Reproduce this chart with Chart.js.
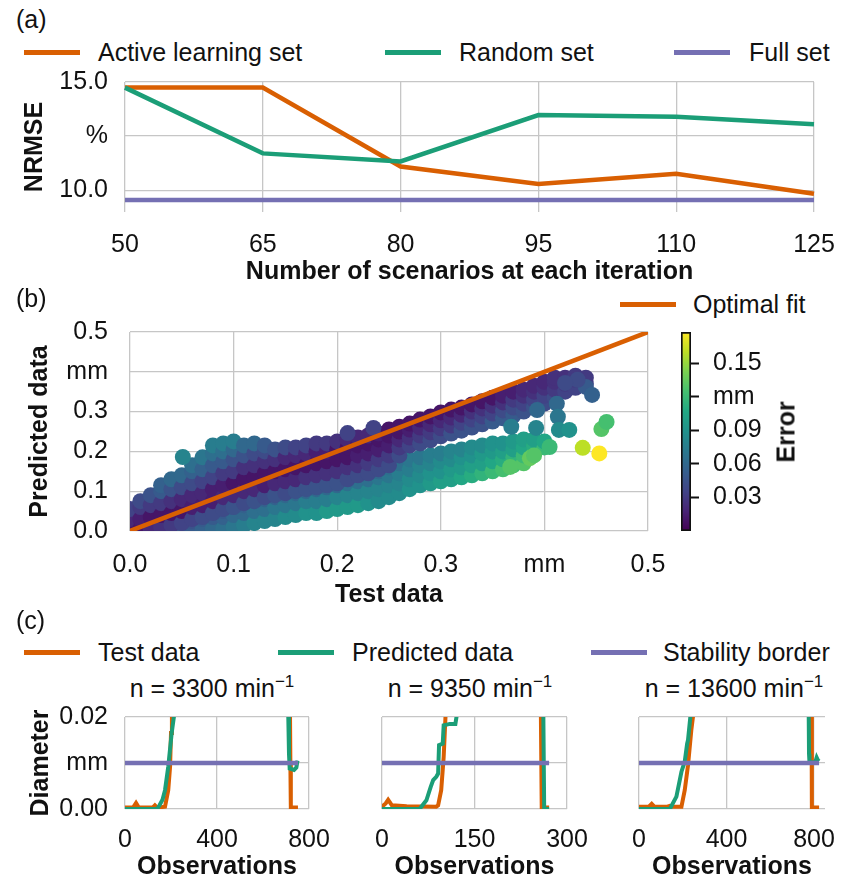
<!DOCTYPE html>
<html>
<head>
<meta charset="utf-8">
<script src="https://cdn.jsdelivr.net/npm/chart.js@4.4.1/dist/chart.umd.min.js"></script>
<style>
  html, body { margin: 0; padding: 0; background: #fff; }
  body { position: relative; width: 853px; height: 878px; overflow: hidden; font-family: "Liberation Sans", Arial, sans-serif; color: #111; }
  canvas { position: absolute; }
  .txt { position: absolute; font-size: 25px; line-height: 25px; white-space: nowrap; }
  .swatch { position: absolute; height: 5px; }
  .sub { text-align: center; width: 240px; }
  .sup { font-size: 17px; position: relative; top: -10px; }
</style>
</head>
<body>

<!-- (a) -->
<div class="txt" style="left:16px;top:7px">(a)</div>
<div class="swatch" style="left:24px;top:50px;width:56px;background:#d95f02"></div>
<div class="txt" style="left:98px;top:40px">Active learning set</div>
<div class="swatch" style="left:385px;top:50px;width:56px;background:#1b9e77"></div>
<div class="txt" style="left:459px;top:40px">Random set</div>
<div class="swatch" style="left:674px;top:50px;width:56px;background:#7570b3"></div>
<div class="txt" style="left:749px;top:40px">Full set</div>
<canvas id="nrmse" width="853" height="220" style="left:0;top:70px"></canvas>

<!-- (b) -->
<div class="txt" style="left:16px;top:286px">(b)</div>
<div class="swatch" style="left:620px;top:302px;width:56px;background:#d95f02"></div>
<div class="txt" style="left:693px;top:292px">Optimal fit</div>
<canvas id="fit" width="670" height="300" style="left:0;top:315px"></canvas>
<canvas id="colorbar" width="120" height="300" style="left:660px;top:315px"></canvas>
<div class="txt" style="left:786px;top:432px;font-weight:bold;transform:translate(-50%,-50%) rotate(-90deg)">Error</div>

<!-- (c) -->
<div class="txt" style="left:16px;top:608px">(c)</div>
<div class="swatch" style="left:24px;top:650px;width:56px;background:#d95f02"></div>
<div class="txt" style="left:98px;top:640px">Test data</div>
<div class="swatch" style="left:278px;top:650px;width:56px;background:#1b9e77"></div>
<div class="txt" style="left:352px;top:640px">Predicted data</div>
<div class="swatch" style="left:591px;top:650px;width:56px;background:#7570b3"></div>
<div class="txt" style="left:663px;top:640px">Stability border</div>
<div class="txt sub" style="left:92px;top:676px">n = 3300 min<span class="sup">−1</span></div>
<div class="txt sub" style="left:350px;top:676px">n = 9350 min<span class="sup">−1</span></div>
<div class="txt sub" style="left:614px;top:676px">n = 13600 min<span class="sup">−1</span></div>
<canvas id="run1" width="330" height="185" style="left:0;top:700px"></canvas>
<canvas id="run2" width="250" height="185" style="left:340px;top:700px"></canvas>
<canvas id="run3" width="253" height="185" style="left:600px;top:700px"></canvas>

<script>
// ---- (a) NRMSE per iteration ----
const scenarioCounts = ['50', '65', '80', '95', '110', '125'];
const nrmseActive = [14.74, 14.74, 11.09, 10.28, 10.76, 9.83];
const nrmseRandom = [14.74, 11.70, 11.33, 13.47, 13.39, 13.05];
const nrmseFull = 9.55;
const nrmseTicks = [10, 12.5, 15];

// ---- (b) test vs predicted, [test, [predicted...], [error...]] per column ----
const upperBand = [
  [0.00, [0.005, 0.03, 0.055], [0.01, 0.02, 0.035]],
  [0.01, [0.005, 0.03, 0.06, 0.075], [0.01, 0.015, 0.03, 0.04]],
  [0.02, [0.005, 0.035, 0.065, 0.09], [0.02, 0.01, 0.03, 0.045]],
  [0.03, [0.01, 0.04, 0.07, 0.1, 0.115], [0.025, 0.01, 0.03, 0.05, 0.055]],
  [0.04, [0.015, 0.045, 0.075, 0.105, 0.13], [0.03, 0.01, 0.025, 0.045, 0.06]],
  [0.05, [0.02, 0.05, 0.08, 0.11, 0.14], [0.035, 0.01, 0.02, 0.04, 0.06]],
  [0.06, [0.03, 0.06, 0.09, 0.12, 0.15, 0.165], [0.035, 0.015, 0.02, 0.04, 0.055, 0.065]],
  [0.07, [0.035, 0.065, 0.095, 0.125, 0.155, 0.185], [0.04, 0.015, 0.02, 0.035, 0.055, 0.07]],
  [0.08, [0.045, 0.075, 0.105, 0.135, 0.165, 0.195, 0.215], [0.04, 0.015, 0.015, 0.035, 0.05, 0.065, 0.075]],
  [0.09, [0.055, 0.085, 0.115, 0.145, 0.175, 0.2, 0.22], [0.04, 0.02, 0.015, 0.03, 0.05, 0.065, 0.075]],
  [0.10, [0.06, 0.09, 0.12, 0.15, 0.18, 0.205, 0.225], [0.045, 0.02, 0.01, 0.03, 0.045, 0.06, 0.075]],
  [0.11, [0.07, 0.1, 0.13, 0.16, 0.19, 0.215], [0.04, 0.02, 0.01, 0.025, 0.045, 0.06]],
  [0.12, [0.075, 0.105, 0.135, 0.165, 0.195, 0.22], [0.045, 0.02, 0.01, 0.025, 0.04, 0.06]],
  [0.13, [0.085, 0.115, 0.145, 0.175, 0.2, 0.215], [0.04, 0.015, 0.01, 0.025, 0.04, 0.05]],
  [0.14, [0.09, 0.12, 0.15, 0.18, 0.205], [0.045, 0.02, 0.01, 0.025, 0.045]],
  [0.15, [0.095, 0.125, 0.155, 0.185, 0.21], [0.04, 0.02, 0.01, 0.02, 0.04]],
  [0.16, [0.1, 0.13, 0.16, 0.19, 0.21], [0.045, 0.02, 0.01, 0.02, 0.035]],
  [0.17, [0.105, 0.135, 0.165, 0.195, 0.215], [0.045, 0.025, 0.01, 0.02, 0.035]],
  [0.18, [0.11, 0.14, 0.17, 0.2, 0.22], [0.045, 0.025, 0.01, 0.015, 0.03]],
  [0.19, [0.115, 0.145, 0.175, 0.2, 0.22], [0.045, 0.025, 0.01, 0.015, 0.03]],
  [0.20, [0.12, 0.15, 0.18, 0.205, 0.225], [0.045, 0.025, 0.01, 0.01, 0.025]],
  [0.21, [0.13, 0.16, 0.185, 0.21, 0.23], [0.04, 0.025, 0.01, 0.01, 0.02]],
  [0.22, [0.14, 0.165, 0.19, 0.215, 0.235], [0.04, 0.025, 0.015, 0.01, 0.02]],
  [0.23, [0.145, 0.17, 0.195, 0.22, 0.24], [0.04, 0.03, 0.015, 0.01, 0.02]],
  [0.24, [0.155, 0.18, 0.205, 0.23, 0.245], [0.04, 0.03, 0.015, 0.01, 0.015]],
  [0.25, [0.165, 0.19, 0.215, 0.24, 0.255], [0.04, 0.03, 0.015, 0.01, 0.01]],
  [0.26, [0.19, 0.21, 0.23, 0.25, 0.262], [0.04, 0.03, 0.02, 0.01, 0.01]],
  [0.27, [0.215, 0.235, 0.255, 0.27], [0.035, 0.025, 0.015, 0.01]],
  [0.28, [0.22, 0.24, 0.26, 0.28], [0.04, 0.03, 0.02, 0.01]],
  [0.29, [0.228, 0.248, 0.268, 0.288], [0.04, 0.03, 0.02, 0.01]],
  [0.30, [0.238, 0.258, 0.278, 0.298], [0.04, 0.03, 0.02, 0.01]],
  [0.31, [0.245, 0.265, 0.285, 0.305], [0.045, 0.03, 0.02, 0.01]],
  [0.32, [0.252, 0.272, 0.292, 0.31], [0.045, 0.035, 0.02, 0.01]],
  [0.33, [0.26, 0.28, 0.3, 0.318], [0.045, 0.035, 0.025, 0.01]],
  [0.34, [0.268, 0.288, 0.308, 0.326], [0.045, 0.035, 0.025, 0.01]],
  [0.35, [0.275, 0.295, 0.315, 0.335], [0.05, 0.035, 0.025, 0.01]],
  [0.36, [0.283, 0.303, 0.323, 0.34], [0.05, 0.04, 0.025, 0.015]],
  [0.37, [0.29, 0.31, 0.33, 0.35], [0.05, 0.04, 0.03, 0.015]],
  [0.38, [0.3, 0.32, 0.34, 0.355], [0.045, 0.035, 0.025, 0.02]],
  [0.39, [0.31, 0.33, 0.35, 0.365], [0.045, 0.035, 0.025, 0.02]],
  [0.40, [0.32, 0.34, 0.36, 0.375], [0.04, 0.035, 0.025, 0.02]],
  [0.41, [0.335, 0.355, 0.375, 0.385], [0.04, 0.03, 0.025, 0.025]],
  [0.42, [0.35, 0.37, 0.385], [0.035, 0.03, 0.025]],
  [0.43, [0.36, 0.38, 0.39], [0.035, 0.03, 0.03]],
  [0.44, [0.37, 0.385], [0.035, 0.03]]
];
const lowerBand = [
  [0.04, [0.005], [0.045]],
  [0.05, [0.005], [0.05]],
  [0.06, [0.005, 0.025], [0.05, 0.045]],
  [0.07, [0.005, 0.03], [0.055, 0.05]],
  [0.08, [0.005, 0.035], [0.06, 0.05]],
  [0.09, [0.005, 0.035, 0.05], [0.065, 0.055, 0.05]],
  [0.10, [0.01, 0.04, 0.06], [0.07, 0.06, 0.05]],
  [0.11, [0.015, 0.045, 0.065], [0.075, 0.06, 0.055]],
  [0.12, [0.02, 0.05, 0.075], [0.08, 0.065, 0.055]],
  [0.13, [0.025, 0.055, 0.08], [0.08, 0.065, 0.055]],
  [0.14, [0.03, 0.06, 0.085], [0.08, 0.07, 0.055]],
  [0.15, [0.035, 0.065, 0.09], [0.085, 0.07, 0.06]],
  [0.16, [0.04, 0.07, 0.095], [0.085, 0.07, 0.06]],
  [0.17, [0.045, 0.075, 0.1], [0.09, 0.075, 0.06]],
  [0.18, [0.045, 0.075, 0.105], [0.09, 0.075, 0.06]],
  [0.19, [0.05, 0.08, 0.11], [0.095, 0.075, 0.06]],
  [0.20, [0.055, 0.085, 0.115], [0.095, 0.08, 0.06]],
  [0.21, [0.06, 0.09, 0.12], [0.095, 0.08, 0.065]],
  [0.22, [0.065, 0.095, 0.125], [0.095, 0.08, 0.065]],
  [0.23, [0.07, 0.1, 0.13], [0.09, 0.08, 0.065]],
  [0.24, [0.075, 0.105, 0.135, 0.15], [0.085, 0.08, 0.07, 0.06]],
  [0.25, [0.085, 0.115, 0.14, 0.16], [0.085, 0.08, 0.07, 0.065]],
  [0.26, [0.095, 0.12, 0.145, 0.17], [0.085, 0.08, 0.075, 0.065]],
  [0.27, [0.105, 0.13, 0.155, 0.18], [0.09, 0.085, 0.075, 0.07]],
  [0.28, [0.115, 0.14, 0.165, 0.185], [0.09, 0.085, 0.08, 0.07]],
  [0.29, [0.12, 0.145, 0.17, 0.19], [0.095, 0.09, 0.08, 0.075]],
  [0.30, [0.125, 0.15, 0.175, 0.195], [0.1, 0.09, 0.085, 0.075]],
  [0.31, [0.13, 0.155, 0.18, 0.2], [0.1, 0.095, 0.085, 0.08]],
  [0.32, [0.135, 0.16, 0.185, 0.205], [0.105, 0.095, 0.09, 0.08]],
  [0.33, [0.14, 0.165, 0.19, 0.21], [0.11, 0.1, 0.09, 0.085]],
  [0.34, [0.145, 0.17, 0.195, 0.215], [0.115, 0.1, 0.095, 0.085]],
  [0.35, [0.15, 0.175, 0.2, 0.22], [0.12, 0.105, 0.095, 0.09]],
  [0.36, [0.155, 0.18, 0.2, 0.22], [0.125, 0.11, 0.1, 0.09]],
  [0.37, [0.165, 0.185, 0.205, 0.225], [0.125, 0.115, 0.1, 0.095]],
  [0.38, [0.17, 0.19, 0.21, 0.23], [0.13, 0.12, 0.105, 0.1]],
  [0.39, [0.195, 0.215, 0.23], [0.13, 0.11, 0.1]],
  [0.40, [0.21, 0.225], [0.12, 0.105]]
];
// stray points: [test, predicted, error]
const strayPoints = [
  [0.051, 0.186, 0.08], [0.21, 0.246, 0.035], [0.235, 0.259, 0.035],
  [0.393, 0.304, 0.06], [0.412, 0.32, 0.06], [0.413, 0.287, 0.07],
  [0.368, 0.262, 0.075], [0.392, 0.259, 0.08], [0.414, 0.254, 0.085],
  [0.424, 0.254, 0.09], [0.437, 0.209, 0.16], [0.453, 0.195, 0.178],
  [0.455, 0.256, 0.13], [0.46, 0.274, 0.125], [0.405, 0.211, 0.12],
  [0.367, 0.161, 0.13], [0.386, 0.183, 0.135], [0.39, 0.19, 0.13],
  [0.44, 0.362, 0.05], [0.446, 0.342, 0.055], [0.432, 0.38, 0.04], [0.42, 0.372, 0.04]
];
const fitTicks = [0, 0.1, 0.2, 0.3, 0.4, 0.5];
const errorMax = 0.178;
const errorTicks = [0.03, 0.06, 0.09, 0.12, 0.15];

// ---- (c) diameter over observations for three spindle speeds ----
const obsTest3300 = [0, 35, 48, 60, 120, 130, 140, 174, 188, 196, 200, 204, 400, 716, 719, 721, 752];
const diaTest3300 = [0.0003, 0.0003, 0.0013, 0.0003, 0.0003, 0.0008, 0.0003, 0.0005, 0.0041, 0.0092, 0.0165, 0.021, 0.08, 0.03, 0.01, 0.0003, 0.0003];
const obsPred3300 = [0, 140, 150, 163, 174, 188, 203, 213, 225, 400, 706, 710, 713, 716, 735, 745, 750];
const diaPred3300 = [0, 0, 0.0008, 0.002, 0.0041, 0.0092, 0.0165, 0.0202, 0.03, 0.08, 0.03, 0.02, 0.012, 0.0088, 0.0085, 0.009, 0.0105];

const obsTest9350 = [0, 6, 10, 16, 40, 88, 91, 96, 100, 103, 106, 180, 257, 259, 271];
const diaTest9350 = [0.0005, 0.0012, 0.002, 0.0008, 0.0006, 0.0005, 0.0008, 0.0041, 0.0113, 0.0202, 0.03, 0.08, 0.03, 0.0003, 0.0003];
const obsPred9350 = [0, 61, 72, 79, 83, 88, 91, 92.5, 98.5, 100, 110, 119, 121, 125, 180, 261, 263, 271];
const diaPred9350 = [0, 0, 0.0019, 0.0048, 0.0063, 0.007, 0.0077, 0.0139, 0.0142, 0.0182, 0.0185, 0.0185, 0.0202, 0.03, 0.08, 0.03, 0, 0];

const obsTest13600 = [0, 45, 58, 70, 130, 141, 152, 194, 209, 224, 239, 247, 260, 450, 788, 790, 823];
const diaTest13600 = [0.0005, 0.0005, 0.0011, 0.0005, 0.0005, 0.0007, 0.0005, 0.0005, 0.0041, 0.0095, 0.0171, 0.0202, 0.03, 0.08, 0.03, 0.0003, 0.0003];
const obsPred13600 = [0, 141, 171, 194, 209, 220, 224, 235, 245, 450, 774, 777, 779, 805, 812, 818, 823];
const diaPred13600 = [0, 0, 0.0027, 0.0081, 0.0103, 0.0142, 0.015, 0.0202, 0.03, 0.08, 0.03, 0.012, 0.0102, 0.0101, 0.0112, 0.0106, 0.0104];

const stabilityBorder = 0.01;
const diameterTicks = [0, 0.01, 0.02];

// ==========================================================================================================

const ORANGE = '#d95f02';
const GREEN = '#1b9e77';
const PURPLE = '#7570b3';
const GRID = '#c6c6c6';

Chart.defaults.font.family = '"Liberation Sans", Arial, sans-serif';
Chart.defaults.font.size = 25;
Chart.defaults.color = '#111';

const viridisStops = ['#440154', '#482475', '#414487', '#355f8d', '#2a788e', '#21918c', '#22a884', '#44bf70', '#7ad151', '#bddf26', '#fde725'];

function viridis(t) {
	t = Math.min(1, Math.max(0, t));
	const pos = t * (viridisStops.length - 1);
	const i = Math.min(viridisStops.length - 2, Math.floor(pos));
	const f = pos - i;
	const a = viridisStops[i], b = viridisStops[i + 1];
	const ch = (h, k) => parseInt(h.substr(1 + k * 2, 2), 16);
	const c = [0, 1, 2].map(k => Math.round(ch(a, k) + (ch(b, k) - ch(a, k)) * f));
	return `rgb(${c[0]}, ${c[1]}, ${c[2]})`;
}

const toPoints = (xs, ys) => xs.map((x, i) => ({ x: x, y: ys[i] }));
const fixedTicks = values => scale => { scale.ticks = values.map(v => ({ value: v })); };

// fixed axis thickness, and no extra room reserved for overhanging tick labels
const fixedSize = (prop, size) => scale => {
	scale[prop] = size;
	scale.paddingTop = 0;
	scale.paddingBottom = 0;
	scale.paddingLeft = 0;
	scale.paddingRight = 0;
};

// ==========================================================================================================

new Chart(document.getElementById('nrmse'), {
	type: 'line',
	data: {
		labels: scenarioCounts,
		datasets: [
			{ label: 'Full set', data: scenarioCounts.map(() => nrmseFull), borderColor: PURPLE, borderWidth: 4.5, pointRadius: 0, order: 0 },
			{ label: 'Random set', data: nrmseRandom, borderColor: GREEN, borderWidth: 4.5, pointRadius: 0, order: 1 },
			{ label: 'Active learning set', data: nrmseActive, borderColor: ORANGE, borderWidth: 4.5, pointRadius: 0, order: 2 },
		]
	},
	options: {
		responsive: false,
		animation: false,
		layout: { padding: { top: 12, right: 39, left: 0, bottom: 0 } },
		plugins: { legend: { display: false } },
		scales: {
			x: {
				grid: { color: GRID, lineWidth: 1.3, drawTicks: false },
				border: { display: false },
				ticks: { padding: 18 },
				title: { display: true, text: 'Number of scenarios at each iteration', font: { weight: 'bold' }, padding: { top: 0, bottom: 3 } },
				afterFit: fixedSize('height', 78)
			},
			y: {
				min: 8.99,
				max: 15,
				afterBuildTicks: fixedTicks(nrmseTicks),
				grid: { color: GRID, lineWidth: 1.3, drawTicks: false },
				border: { display: false },
				ticks: { padding: 17, callback: v => v === 12.5 ? '%' : v.toFixed(1) },
				title: { display: true, text: 'NRMSE', font: { weight: 'bold' }, padding: { top: 20, bottom: 0 } },
				afterFit: fixedSize('width', 125)
			}
		}
	}
});

// ==========================================================================================================

const fitData = [];
const fitColors = [];
[lowerBand, upperBand].forEach(band => band.forEach(([test, preds, errs]) => {
	preds.forEach((p, i) => {
		fitData.push({ x: test, y: p });
		fitColors.push(viridis(errs[i] / errorMax));
	});
}));
strayPoints.forEach(([test, p, e]) => {
	fitData.push({ x: test, y: p });
	fitColors.push(viridis(e / errorMax));
});

const mmLabel = (v, mmValue, digits) => Math.abs(v - mmValue) < 1e-9 ? 'mm' : v.toFixed(digits);

new Chart(document.getElementById('fit'), {
	type: 'scatter',
	data: {
		datasets: [
			{ label: 'Optimal fit', data: [{ x: 0, y: 0 }, { x: 0.5, y: 0.5 }], showLine: true, borderColor: ORANGE, borderWidth: 4.5, pointRadius: 0, order: 0 },
			{ label: 'Samples', data: fitData, backgroundColor: fitColors, borderWidth: 0, pointRadius: 8, pointHoverRadius: 8, order: 1 }
		]
	},
	options: {
		responsive: false,
		animation: false,
		layout: { padding: { top: 17, right: 22, left: 0, bottom: 0 } },
		plugins: { legend: { display: false } },
		scales: {
			x: {
				min: 0,
				max: 0.5,
				afterBuildTicks: fixedTicks(fitTicks),
				grid: { color: GRID, lineWidth: 1.3, drawTicks: false },
				border: { display: false },
				ticks: { padding: 19, callback: v => mmLabel(v, 0.4, 1) },
				title: { display: true, text: 'Test data', font: { weight: 'bold' }, padding: { top: 0, bottom: 5 } },
				afterFit: fixedSize('height', 84)
			},
			y: {
				min: 0,
				max: 0.5,
				afterBuildTicks: fixedTicks(fitTicks),
				grid: { color: GRID, lineWidth: 1.3, drawTicks: false },
				border: { display: false },
				ticks: { padding: 22, callback: v => mmLabel(v, 0.4, 1) },
				title: { display: true, text: 'Predicted data', font: { weight: 'bold' }, padding: { top: 25, bottom: 0 } },
				afterFit: fixedSize('width', 130)
			}
		}
	}
});

// ==========================================================================================================

new Chart(document.getElementById('colorbar'), {
	type: 'bar',
	data: {
		labels: ['Error'],
		datasets: [{
			data: [errorMax],
			backgroundColor: ctx => {
				const area = ctx.chart.chartArea;
				if (!area) return viridis(0.5);
				const g = ctx.chart.ctx.createLinearGradient(0, area.bottom, 0, area.top);
				viridisStops.forEach((c, i) => g.addColorStop(i / (viridisStops.length - 1), c));
				return g;
			},
			borderColor: '#111',
			borderWidth: 2,
			borderSkipped: false,
			barPercentage: 1,
			categoryPercentage: 1
		}]
	},
	options: {
		responsive: false,
		animation: false,
		layout: { padding: { top: 17, right: 0, left: 21, bottom: 84 } },
		plugins: { legend: { display: false }, tooltip: { enabled: false } },
		scales: {
			x: { display: false },
			y: {
				position: 'right',
				min: 0,
				max: errorMax,
				afterBuildTicks: fixedTicks(errorTicks),
				grid: { drawOnChartArea: false, drawTicks: true, tickLength: 8, tickColor: '#111', tickWidth: 2 },
				border: { display: false },
				ticks: { padding: 14, callback: v => mmLabel(v, 0.12, 2) },
				afterFit: fixedSize('width', 89)
			}
		}
	}
});

// ==========================================================================================================

function runChart(id, testObs, testDia, predObs, predDia, borderEnd, xMax, xTicks, withYAxis, padLeft, padRight) {
	return new Chart(document.getElementById(id), {
		type: 'line',
		data: {
			datasets: [
				{ label: 'Stability border', data: [{ x: 0, y: stabilityBorder }, { x: borderEnd, y: stabilityBorder }], borderColor: PURPLE, borderWidth: 4.5, pointRadius: 0, order: 0 },
				{ label: 'Predicted data', data: toPoints(predObs, predDia), borderColor: GREEN, borderWidth: 4, pointRadius: 0, order: 1 },
				{ label: 'Test data', data: toPoints(testObs, testDia), borderColor: ORANGE, borderWidth: 4, pointRadius: 0, order: 2 },
			]
		},
		options: {
			responsive: false,
			animation: false,
			layout: { padding: { top: 17, right: padRight, left: padLeft, bottom: 0 } },
			plugins: { legend: { display: false } },
			scales: {
				x: {
					type: 'linear',
					min: 0,
					max: xMax,
					afterBuildTicks: fixedTicks(xTicks),
					grid: { color: GRID, lineWidth: 1.3, drawTicks: false },
					border: { display: false },
					ticks: { padding: 16, callback: v => String(v) },
					title: { display: true, text: 'Observations', font: { weight: 'bold' }, padding: { top: 0, bottom: 3 } },
					afterFit: fixedSize('height', 76)
				},
				y: {
					min: 0,
					max: 0.02,
					afterBuildTicks: fixedTicks(diameterTicks),
					grid: { color: GRID, lineWidth: 1.3, drawTicks: false },
					border: { display: false },
					ticks: { display: withYAxis, padding: 17, callback: v => mmLabel(v, 0.01, 2) },
					title: { display: withYAxis, text: 'Diameter', font: { weight: 'bold' }, padding: { top: 26, bottom: 0 } },
					afterFit: fixedSize('width', withYAxis ? 125 : 0)
				}
			}
		}
	});
}

runChart('run1', obsTest3300, diaTest3300, obsPred3300, diaPred3300, 752, 800, [0, 400, 800], true, 0, 21);
runChart('run2', obsTest9350, diaTest9350, obsPred9350, diaPred9350, 271, 300, [0, 150, 300], false, 42, 23);
runChart('run3', obsTest13600, diaTest13600, obsPred13600, diaPred13600, 823, 850, [0, 400, 800], false, 39, 28);
</script>
</body>
</html>
